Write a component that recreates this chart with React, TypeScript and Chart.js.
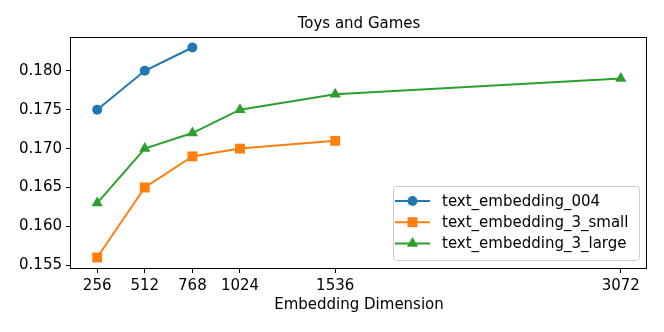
import React, { useEffect, useRef } from "react";
import { Chart, registerables } from "chart.js";

Chart.register(...registerables);

const TITLE = "Toys and Games";
const X_LABEL = "Embedding Dimension";
const xTicks = [256, 512, 768, 1024, 1536, 3072];
const yTicks = [0.155, 0.16, 0.165, 0.17, 0.175, 0.18];

const dims004 = [256, 512, 768];
const vals004 = [0.175, 0.18, 0.183];
const dimsSmall = [256, 512, 768, 1024, 1536];
const valsSmall = [0.156, 0.165, 0.169, 0.17, 0.171];
const dimsLarge = [256, 512, 768, 1024, 1536, 3072];
const valsLarge = [0.163, 0.17, 0.172, 0.175, 0.177, 0.179];

const FONT = "DejaVu Sans";

function pts(xs: number[], ys: number[]) {
  return xs.map((x, i) => ({ x, y: ys[i] }));
}

export default function App() {
  const ref = useRef<HTMLCanvasElement | null>(null);
  useEffect(() => {
    if (!ref.current) return;
    const series = [
      { label: "text_embedding_004", color: "#1f77b4", style: "circle", r: 5, data: pts(dims004, vals004) },
      { label: "text_embedding_3_small", color: "#ff7f0e", style: "rect", r: 7, data: pts(dimsSmall, valsSmall) },
      { label: "text_embedding_3_large", color: "#2ca02c", style: "triangle", r: 6.5, data: pts(dimsLarge, valsLarge) },
    ];
    const allX = [...dims004, ...dimsSmall, ...dimsLarge];
    const allY = [...vals004, ...valsSmall, ...valsLarge];
    const xMinD = Math.min(...allX), xMaxD = Math.max(...allX);
    const yMinD = Math.min(...allY), yMaxD = Math.max(...allY);
    const xm = (xMaxD - xMinD) * 0.05, ym = (yMaxD - yMinD) * 0.05;

    const drawMarker = (ctx: CanvasRenderingContext2D, style: string, x: number, y: number, r: number, color: string) => {
      ctx.save();
      ctx.fillStyle = color;
      ctx.beginPath();
      if (style === "circle") {
        ctx.arc(x, y, r, 0, Math.PI * 2);
      } else if (style === "rect") {
        const s = Math.SQRT1_2 * r;
        ctx.rect(x - s, y - s, 2 * s, 2 * s);
      } else {
        let rad = 0;
        ctx.moveTo(x + Math.sin(rad) * r, y - Math.cos(rad) * r);
        rad += (2 * Math.PI) / 3;
        ctx.lineTo(x + Math.sin(rad) * r, y - Math.cos(rad) * r);
        rad += (2 * Math.PI) / 3;
        ctx.lineTo(x + Math.sin(rad) * r, y - Math.cos(rad) * r);
        ctx.closePath();
      }
      ctx.fill();
      ctx.restore();
    };

    const decor = {
      id: "decor",
      afterDraw(chart: any) {
        const ctx = chart.ctx as CanvasRenderingContext2D;
        const a = chart.chartArea;
        ctx.save();
        // frame
        ctx.strokeStyle = "#000";
        ctx.lineWidth = 1;
        ctx.strokeRect(Math.round(a.left) - 0.5, Math.round(a.top) + 0.5, Math.round(a.right - a.left), Math.round(a.bottom - a.top));
        // title
        ctx.fillStyle = "#000";
        ctx.font = `15px "${FONT}"`;
        ctx.textAlign = "center";
        ctx.textBaseline = "alphabetic";
        const cx = (a.left + a.right) / 2;
        ctx.fillText(TITLE, cx, a.top - 9);
        // x label
        ctx.font = `15px "${FONT}"`;
        ctx.textBaseline = "middle";
        ctx.fillText(X_LABEL, cx, a.bottom + 37);
        // legend
        const w = 246, h = 74;
        const bx = a.right - 8 - w, by = a.bottom - 8 - h;
        ctx.beginPath();
        if ((ctx as any).roundRect) (ctx as any).roundRect(bx + 0.5, by + 0.5, w, h, 3);
        else ctx.rect(bx + 0.5, by + 0.5, w, h);
        ctx.fillStyle = "rgba(255,255,255,0.8)";
        ctx.fill();
        ctx.strokeStyle = "#cccccc";
        ctx.lineWidth = 1;
        ctx.stroke();
        ctx.font = `15px "${FONT}"`;
        ctx.textAlign = "left";
        ctx.textBaseline = "middle";
        series.forEach((s, i) => {
          const ry = by + 15 + i * 21.2;
          ctx.strokeStyle = s.color;
          ctx.lineWidth = 2;
          ctx.beginPath();
          ctx.moveTo(bx + 2, ry);
          ctx.lineTo(bx + 37, ry);
          ctx.stroke();
          drawMarker(ctx, s.style, bx + 19.5, ry, s.r, s.color);
          ctx.fillStyle = "#000";
          ctx.fillText(s.label, bx + 49, ry + 1);
        });
        ctx.restore();
      },
    };

    const chart = new Chart(ref.current, {
      type: "line",
      data: {
        datasets: series.map((s) => ({
          label: s.label,
          data: s.data,
          borderColor: s.color,
          backgroundColor: s.color,
          borderWidth: 2,
          pointStyle: s.style as any,
          pointRadius: s.r,
          pointBorderWidth: 0,
          pointBackgroundColor: s.color,
          fill: false,
          tension: 0,
        })),
      },
      options: {
        responsive: false,
        animation: false,
        events: [],
        layout: { padding: { left: 0, right: 17, top: 37, bottom: 0 } },
        plugins: { legend: { display: false }, title: { display: false }, tooltip: { enabled: false } },
        scales: {
          x: {
            type: "linear",
            min: xMinD - xm,
            max: xMaxD + xm,
            afterBuildTicks: (s: any) => { s.ticks = xTicks.map((v) => ({ value: v })); },
            afterFit: (s: any) => { s.height = 64; },
            grid: { display: true, drawOnChartArea: false, drawTicks: true, tickLength: 5, color: "#000", lineWidth: 1 },
            border: { display: false },
            ticks: { color: "#000", font: { family: FONT, size: 15 }, padding: 4, maxRotation: 0, autoSkip: false, callback: (v: any) => String(v) },
          },
          y: {
            type: "linear",
            min: yMinD - ym,
            max: yMaxD + ym,
            afterBuildTicks: (s: any) => { s.ticks = yTicks.map((v) => ({ value: v })); },
            afterFit: (s: any) => { s.width = 71; },
            grid: { display: true, drawOnChartArea: false, drawTicks: true, tickLength: 5, color: "#000", lineWidth: 1 },
            border: { display: false },
            ticks: { color: "#000", font: { family: FONT, size: 15 }, padding: 4, autoSkip: false, callback: (v: any) => Number(v).toFixed(3) },
          },
        },
      },
      plugins: [decor],
    });
    return () => chart.destroy();
  }, []);
  return (
    <div style={{ position: "fixed", left: 0, top: 0, width: 664, height: 332, background: "#fff" }}>
      <canvas ref={ref} width={664} height={332} style={{ width: 664, height: 332 }} />
    </div>
  );
}
